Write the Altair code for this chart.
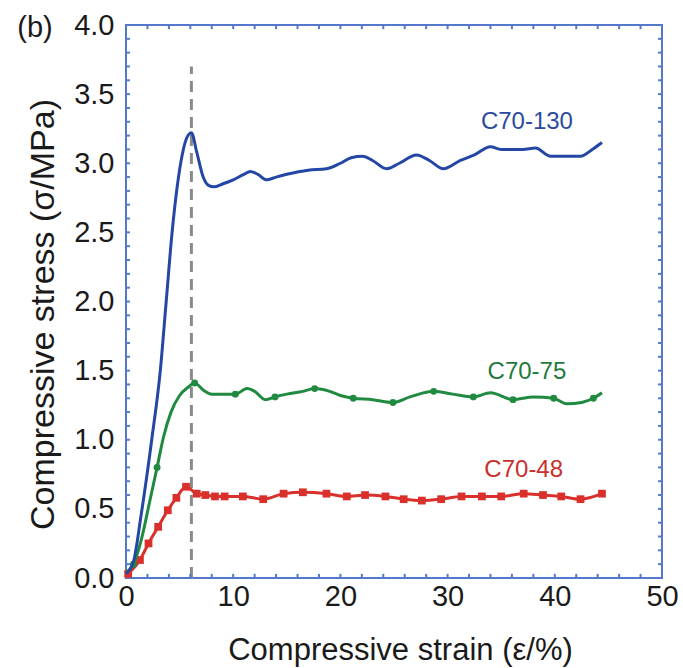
import altair as alt
import pandas as pd

FONT = "Liberation Sans"

# C70-130 (blue line)
blue_x = [0.0, 0.7, 1.4, 2.4, 3.2, 3.75, 4.3, 5.1, 5.6, 6.1, 6.6, 7.2, 7.7, 8.2, 9.0, 10.0, 11.0, 11.6,
          12.3, 13.1, 14.0, 15.0, 17.0, 18.7, 20.0, 21.0, 22.1, 23.0, 24.3, 25.5, 27.1, 28.3,
          29.6, 31.2, 32.5, 34.0, 35.0, 36.1, 37.0, 38.2, 39.6, 41.0, 42.4, 43.5, 44.4]
blue_y = [0.03, 0.12, 0.45, 1.0, 1.5, 2.0, 2.5, 3.0, 3.17, 3.22, 3.08, 2.9, 2.84, 2.83, 2.85, 2.88, 2.92, 2.94,
          2.92, 2.88, 2.9, 2.92, 2.95, 2.96, 3.0, 3.04, 3.05, 3.02, 2.96, 3.0, 3.06, 3.02,
          2.96, 3.02, 3.06, 3.12, 3.1, 3.1, 3.1, 3.11, 3.05, 3.05, 3.05, 3.1, 3.15]

# C70-75 (green line + circle markers)
green_x = [0.0, 0.7, 1.5, 2.2, 2.9, 3.5, 4.2, 5.0, 5.8, 6.4, 7.2, 8.0, 9.0, 10.2, 11.3, 12.0,
           13.0, 13.9, 15.0, 16.5, 17.6, 19.0, 20.0, 21.2, 23.0, 24.9, 26.5, 28.7, 30.5, 32.4,
           34.0, 36.1, 38.0, 39.9, 41.1, 42.5, 43.6, 44.4]
green_y = [0.04, 0.1, 0.3, 0.55, 0.8, 1.02, 1.2, 1.32, 1.38, 1.41, 1.36, 1.33, 1.33, 1.33, 1.37, 1.35,
           1.29, 1.31, 1.33, 1.35, 1.37, 1.35, 1.32, 1.30, 1.29, 1.27, 1.31, 1.35, 1.33, 1.31,
           1.34, 1.29, 1.31, 1.30, 1.26, 1.27, 1.30, 1.34]
green_mx = [0.7, 2.9, 6.4, 10.2, 13.9, 17.6, 21.2, 24.9, 28.7, 32.4, 36.1, 39.9, 43.6]
green_my = [0.1, 0.8, 1.41, 1.33, 1.31, 1.37, 1.30, 1.27, 1.35, 1.31, 1.29, 1.30, 1.30]

# C70-48 (red line + square markers)
red_x = [0.2, 1.3, 2.1, 3.0, 3.9, 4.7, 5.6, 6.6, 7.4, 8.3, 9.2, 10.9, 12.8, 14.7, 16.5, 18.7,
         20.6, 22.3, 24.2, 25.9, 27.6, 29.4, 31.3, 33.2, 35.0, 37.1, 38.9, 40.6, 42.4, 44.4]
red_y = [0.03, 0.13, 0.25, 0.37, 0.49, 0.58, 0.66, 0.61, 0.60, 0.59, 0.59, 0.59, 0.57, 0.61, 0.62, 0.61,
         0.59, 0.60, 0.59, 0.57, 0.56, 0.57, 0.59, 0.59, 0.59, 0.61, 0.60, 0.59, 0.57, 0.61]

# dashed marker line
dash_x = [6.1]
dash_y0 = [0.0]
dash_y1 = [3.7]

label_text = ["C70-130", "C70-75", "C70-48"]
label_x = [37.4, 37.4, 37.1]
label_y = [3.30, 1.49, 0.78]
label_color = ["#2b4a9e", "#1f7a3c", "#c8302e"]

x_ticks = [0, 10, 20, 30, 40, 50]
y_ticks = [0.0, 0.5, 1.0, 1.5, 2.0, 2.5, 3.0, 3.5, 4.0]
x_minor = list(range(2, 50, 2))
y_minor = [round(0.1 * i, 1) for i in range(1, 40)]

BLUE = "#2447a6"
GREEN = "#1f8a40"
RED = "#d9302c"
FRAME = "#5479cc"

xs = alt.Scale(domain=[0, 50], nice=False, zero=False)
ys = alt.Scale(domain=[0, 4], nice=False, zero=False)

x_axis = alt.Axis(values=x_ticks, labelFontSize=29, labelFont=FONT, labelColor="#1a1a1a",
                  labelPadding=4, ticks=False, tickSize=0, domain=False, grid=False,
                  labelFlush=False, title="Compressive strain (ε/%)", titleFont=FONT,
                  titleFontSize=31, titleFontWeight="normal", titleColor="#1a1a1a",
                  titleX=274, titleY=81, titleBaseline="alphabetic", titleAlign="center")
y_axis = alt.Axis(values=y_ticks, format=".1f", labelFontSize=29, labelFont=FONT,
                  labelColor="#1a1a1a", labelPadding=12, ticks=False, tickSize=0,
                  domain=False, grid=False, labelFlush=False,
                  title="Compressive stress (σ/MPa)", titleFont=FONT, titleFontSize=34,
                  titleFontWeight="normal", titleColor="#1a1a1a", titleX=-73, titleY=289,
                  titleBaseline="alphabetic", titleAlign="center", titleAngle=270)

df_blue = pd.DataFrame({"x": blue_x, "y": blue_y})
df_green = pd.DataFrame({"x": green_x, "y": green_y})
df_gm = pd.DataFrame({"x": green_mx, "y": green_my})
df_red = pd.DataFrame({"x": red_x, "y": red_y})
df_dash = pd.DataFrame({"x": dash_x, "y": dash_y0, "y2": dash_y1})
df_lab = pd.DataFrame({"x": label_x, "y": label_y, "t": label_text, "c": label_color})
df_xm = pd.DataFrame({"v": x_minor})
df_ym = pd.DataFrame({"v": y_minor})


def X(field="x:Q"):
    return alt.X(field, scale=xs, axis=x_axis)


def Y(field="y:Q"):
    return alt.Y(field, scale=ys, axis=y_axis)


tick_kw = dict(color=FRAME, strokeWidth=2)
xt_bot = alt.Chart(df_xm).mark_rule(**tick_kw).encode(
    x=X("v:Q"), y=Y("a:Q"), y2="b:Q").transform_calculate(a="0", b="0.03")
xt_top = alt.Chart(df_xm).mark_rule(**tick_kw).encode(
    x=X("v:Q"), y=Y("a:Q"), y2="b:Q").transform_calculate(a="4", b="3.97")
yt_left = alt.Chart(df_ym).mark_rule(**tick_kw).encode(
    y=Y("v:Q"), x=X("a:Q"), x2="b:Q").transform_calculate(a="0", b="0.37")
yt_right = alt.Chart(df_ym).mark_rule(**tick_kw).encode(
    y=Y("v:Q"), x=X("a:Q"), x2="b:Q").transform_calculate(a="50", b="49.63")

dash = alt.Chart(df_dash).mark_rule(color="#8a8a8a", strokeWidth=3, strokeDash=[11, 7]).encode(
    x=X(), y=Y(), y2="y2:Q")

blue = alt.Chart(df_blue).mark_line(color=BLUE, strokeWidth=3, interpolate="monotone").encode(
    x=X(), y=Y())
green = alt.Chart(df_green).mark_line(color=GREEN, strokeWidth=3, interpolate="monotone").encode(
    x=X(), y=Y())
green_pts = alt.Chart(df_gm).mark_point(filled=True, shape="circle", size=48, color=GREEN,
                                         opacity=1).encode(x=X(), y=Y())
red = alt.Chart(df_red).mark_line(color=RED, strokeWidth=3, interpolate="monotone").encode(
    x=X(), y=Y())
red_pts = alt.Chart(df_red).mark_point(filled=True, shape="square", size=60, color=RED,
                                        opacity=1).encode(x=X(), y=Y())

labels = alt.Chart(df_lab).mark_text(font=FONT, fontSize=24, baseline="middle",
                                     align="center").encode(
    x=X(), y=Y(), text="t:N", color=alt.Color("c:N", scale=None))

panel = alt.Chart(pd.DataFrame({"t": ["(b)"]})).mark_text(
    font=FONT, fontSize=29, align="center", baseline="alphabetic", color="#1a1a1a").encode(
    text="t:N", x=alt.value(-91), y=alt.value(12))

chart = alt.layer(dash, xt_bot, xt_top, yt_left, yt_right, red, red_pts, green, green_pts,
                  blue, labels, panel).properties(
    width=536, height=553,
    padding={"left": 126, "top": 25, "right": 21, "bottom": 90},
    autosize=alt.AutoSizeParams(type="none"),
    background="white",
).configure_view(stroke=FRAME, strokeWidth=2)

chart.save("out.html", embed_options={"renderer": "svg", "actions": False})
